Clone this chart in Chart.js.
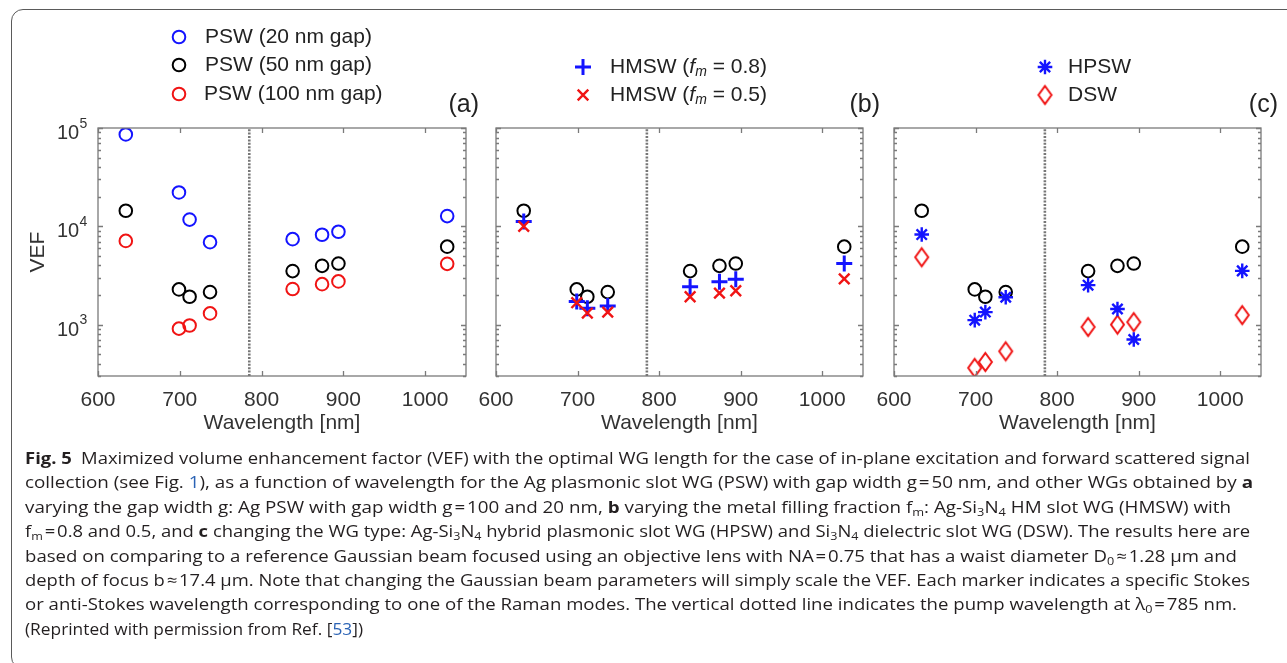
<!DOCTYPE html>
<html>
<head>
<meta charset="utf-8">
<title>VEF versus wavelength</title>
<script src="https://cdn.jsdelivr.net/npm/chart.js@4.4.1/dist/chart.umd.min.js"></script>
<style>
  html, body { margin: 0; padding: 0; background: #fff; width: 1287px; height: 663px; overflow: hidden; }
  #frame { position: absolute; left: 11px; top: 9px; width: 1310px; height: 660px; border: 1.5px solid #5a5a5a;
           border-radius: 12px; box-sizing: border-box; }
  canvas { position: absolute; left: 0; top: 0; pointer-events: none; }
  .cap { position: absolute; left: 25px; white-space: nowrap; font-family: 'Open Sans', 'Noto Sans', sans-serif;
         font-size: 16.5px; line-height: 22px; height: 22px; color: #231f20; transform-origin: 0 50%; }
  .cap b { font-weight: 700; }
  .cap sub { font-size: 0.68em; vertical-align: -0.28em; line-height: 0; }
  .lnk { color: #2b63b5; }
</style>
</head>
<body>
<div id="frame"></div>
<canvas id="panelA" width="1287" height="663"></canvas>
<canvas id="panelB" width="1287" height="663"></canvas>
<canvas id="panelC" width="1287" height="663"></canvas>
<div id="caption"></div>

<script>
// ---- data (VEF per Raman-mode wavelength) ----
const WAVELENGTHS = [634, 699, 712, 737, 838, 874, 894, 1027];        // nm
const PSW_20NM  = [86000, 22100, 11700, 6900, 7400, 8200, 8800, 12700];
const PSW_50NM  = [14400, 2280, 1920, 2140, 3500, 3960, 4180, 6210];
const PSW_100NM = [7100, 910, 980, 1300, 2300, 2580, 2750, 4150];
const HMSW_FM08 = [11200, 1720, 1470, 1550, 2430, 2730, 2900, 4190];
const HMSW_FM05 = [10000, 1670, 1310, 1340, 1920, 2090, 2210, 2920];
const HPSW      = [8240, 1110, 1340, 1900, 2520, 1440, 705, 3520];
const DSW       = [4850, 363, 417, 535, 946, 1000, 1060, 1250];
const PUMP_NM   = 785;
const X_TICKS   = [600, 700, 800, 900, 1000];
const Y_DECADES = [3, 4, 5];
const X_MIN = 600, X_MAX = 1050, Y_MIN = 300, Y_MAX = 100000;

const FONT = "'Liberation Sans', Arial, Helvetica, sans-serif";
const TXT = '#333333';
const BLUE = '#1414ff', RED = '#f01414', BLACK = '#000000';
const W = 1287, H = 663;

const pts = vals => WAVELENGTHS.map((x, i) => ({ x, y: vals[i] }));

// tall outlined diamond used as a point style
function diamondStyle(w, h, color, lw) {
  const c = document.createElement('canvas');
  c.width = Math.ceil(w + lw * 2 + 2); c.height = Math.ceil(h + lw * 2 + 2);
  const g = c.getContext('2d');
  const cx = c.width / 2, cy = c.height / 2;
  g.strokeStyle = color; g.lineWidth = lw; g.lineJoin = 'miter';
  g.beginPath();
  g.moveTo(cx, cy - h / 2); g.lineTo(cx + w / 2, cy); g.lineTo(cx, cy + h / 2); g.lineTo(cx - w / 2, cy);
  g.closePath(); g.stroke();
  return c;
}
const DIAMOND = diamondStyle(13, 18, RED, 2);

const STYLE = {
  circleBlue:  { pointStyle: 'circle', borderColor: BLUE,  backgroundColor: 'rgba(0,0,0,0)', pointRadius: 6.3, borderWidth: 2 },
  circleBlack: { pointStyle: 'circle', borderColor: BLACK, backgroundColor: 'rgba(0,0,0,0)', pointRadius: 6.3, borderWidth: 2 },
  circleRed:   { pointStyle: 'circle', borderColor: RED,   backgroundColor: 'rgba(0,0,0,0)', pointRadius: 6.3, borderWidth: 2 },
  plus:        { pointStyle: 'cross',    borderColor: BLUE, backgroundColor: BLUE, pointRadius: 8,   borderWidth: 3 },
  times:       { pointStyle: 'crossRot', borderColor: RED,  backgroundColor: RED,  pointRadius: 7.5, borderWidth: 2.4 },
  star:        { pointStyle: 'star',     borderColor: BLUE, backgroundColor: BLUE, pointRadius: 7.3, borderWidth: 2.4 },
  diamond:     { pointStyle: DIAMOND,    borderColor: RED,  backgroundColor: RED,  pointRadius: 9,   borderWidth: 2 }
};

function series(label, vals, st, order) {
  return {
    label, data: pts(vals), order, showLine: false,
    pointStyle: st.pointStyle, pointRadius: st.pointRadius, pointHoverRadius: st.pointRadius,
    pointBorderWidth: st.borderWidth, pointBorderColor: st.borderColor, pointBackgroundColor: st.backgroundColor,
    borderColor: st.borderColor, backgroundColor: st.backgroundColor
  };
}
function pumpLine() {
  return {
    label: 'pump', data: [{ x: PUMP_NM, y: Y_MIN }, { x: PUMP_NM, y: Y_MAX }], order: 10,
    showLine: true, pointRadius: 0, borderColor: '#777777', borderWidth: 2.6, borderDash: [2, 1.4]
  };
}

// marker for the legend entries, drawn with the library's own point routine
function legendMarker(ctx, st, x, y) {
  ctx.save();
  ctx.strokeStyle = st.borderColor;
  ctx.fillStyle = st.backgroundColor;
  ctx.lineWidth = st.borderWidth;
  if (Chart.helpers && Chart.helpers.drawPoint) {
    Chart.helpers.drawPoint(ctx, { pointStyle: st.pointStyle, radius: st.pointRadius, rotation: 0, borderWidth: st.borderWidth }, x, y);
  }
  ctx.restore();
}

// frame, inward ticks, decade labels, legend and panel tag
const panelDecor = {
  id: 'panelDecor',
  afterDraw(chart, args, opts) {
    const ctx = chart.ctx, a = chart.chartArea, xs = chart.scales.x, ys = chart.scales.y;
    ctx.save();
    ctx.strokeStyle = '#7a7a7a'; ctx.lineWidth = 1.3;
    ctx.strokeRect(a.left, a.top, a.right - a.left, a.bottom - a.top);
    ctx.beginPath();
    X_TICKS.forEach(v => {
      const px = Math.round(xs.getPixelForValue(v)) + 0.5;
      ctx.moveTo(px, a.bottom); ctx.lineTo(px, a.bottom - 5);
      ctx.moveTo(px, a.top); ctx.lineTo(px, a.top + 5);
    });
    for (let d = 2; d <= 5; d++) {
      for (let m = 1; m <= 9; m++) {
        const v = m * Math.pow(10, d);
        if (v < Y_MIN || v > Y_MAX) continue;
        const py = Math.round(ys.getPixelForValue(v)) + 0.5;
        const len = m === 1 ? 5 : 3;
        ctx.moveTo(a.left, py); ctx.lineTo(a.left + len, py);
        ctx.moveTo(a.right, py); ctx.lineTo(a.right - len, py);
      }
    }
    ctx.stroke();

    if (opts.decadeLabels) {
      ctx.fillStyle = TXT; ctx.textBaseline = 'middle'; ctx.textAlign = 'left';
      Y_DECADES.forEach(k => {
        const py = ys.getPixelForValue(Math.pow(10, k));
        ctx.font = '20px ' + FONT;
        ctx.fillText('10', a.left - 41, py + 5.5);
        ctx.font = '14px ' + FONT;
        ctx.fillText(String(k), a.left - 18.5, py - 4);
      });
    }

    // legend
    ctx.textBaseline = 'middle'; ctx.textAlign = 'left'; ctx.fillStyle = '#222';
    opts.legend.forEach(item => {
      legendMarker(ctx, item.style, item.mx, item.y);
      let x = item.tx;
      item.parts.forEach(p => {
        ctx.font = (p.italic ? 'italic ' : '') + (p.sub ? '14px ' : '21px ') + FONT;
        ctx.fillText(p.t, x, item.y + (p.sub ? 5 : 0));
        x += ctx.measureText(p.t).width;
      });
    });

    // panel tag
    ctx.font = '25px ' + FONT; ctx.textAlign = 'right'; ctx.fillStyle = '#222';
    ctx.fillText(opts.tag, opts.tagX, 105);
    ctx.restore();
  }
};

function makePanel(id, left, right, yWidth, datasets, decor, yTitle) {
  return new Chart(document.getElementById(id), {
    type: 'scatter',
    data: { datasets },
    options: {
      responsive: false, animation: false, devicePixelRatio: 1,
      layout: { padding: { left: left - yWidth, right: W - right, top: 128, bottom: H - 436 } },
      events: [],
      plugins: { legend: { display: false }, tooltip: { enabled: false }, panelDecor: decor },
      scales: {
        x: {
          type: 'linear', position: 'bottom', min: X_MIN, max: X_MAX,
          afterFit: s => { s.height = 60; },
          afterBuildTicks: s => { s.ticks = X_TICKS.map(v => ({ value: v })); },
          grid: { display: false }, border: { display: false },
          ticks: { font: { family: FONT, size: 21 }, color: TXT, padding: 4, maxRotation: 0, autoSkip: false,
                   callback: v => String(v) },
          title: { display: true, text: 'Wavelength [nm]', font: { family: FONT, size: 21 }, color: TXT, padding: 0 }
        },
        y: {
          type: 'logarithmic', position: 'left', min: Y_MIN, max: Y_MAX,
          afterFit: s => { s.width = yWidth; },
          grid: { display: false }, border: { display: false },
          ticks: { display: false },
          title: yTitle
            ? { display: true, text: yTitle, font: { family: FONT, size: 21 }, color: TXT, padding: 0 }
            : { display: false }
        }
      }
    },
    plugins: [panelDecor]
  });
}

// (a) slot gap width
makePanel('panelA', 98, 466, 72, [
  series('PSW (20 nm gap)', PSW_20NM, STYLE.circleBlue, 1),
  series('PSW (50 nm gap)', PSW_50NM, STYLE.circleBlack, 2),
  series('PSW (100 nm gap)', PSW_100NM, STYLE.circleRed, 3),
  pumpLine()
], {
  decadeLabels: true, tag: '(a)', tagX: 479,
  legend: [
    { style: STYLE.circleBlue,  mx: 179, tx: 205, y: 37, parts: [{ t: 'PSW (20 nm gap)' }] },
    { style: STYLE.circleBlack, mx: 179, tx: 205, y: 65, parts: [{ t: 'PSW (50 nm gap)' }] },
    { style: STYLE.circleRed,   mx: 179, tx: 204, y: 94, parts: [{ t: 'PSW (100 nm gap)' }] }
  ]
}, 'VEF');

// (b) metal filling fraction
makePanel('panelB', 496, 863, 0, [
  series('PSW (50 nm gap)', PSW_50NM, STYLE.circleBlack, 3),
  series('HMSW (fm = 0.8)', HMSW_FM08, STYLE.plus, 2),
  series('HMSW (fm = 0.5)', HMSW_FM05, STYLE.times, 1),
  pumpLine()
], {
  decadeLabels: false, tag: '(b)', tagX: 880,
  legend: [
    { style: STYLE.plus,  mx: 583, tx: 610, y: 67, parts: [{ t: 'HMSW (' }, { t: 'f', italic: true }, { t: 'm', italic: true, sub: true }, { t: ' = 0.8)' }] },
    { style: STYLE.times, mx: 583, tx: 610, y: 95, parts: [{ t: 'HMSW (' }, { t: 'f', italic: true }, { t: 'm', italic: true, sub: true }, { t: ' = 0.5)' }] }
  ]
});

// (c) waveguide type
makePanel('panelC', 894, 1261, 0, [
  series('PSW (50 nm gap)', PSW_50NM, STYLE.circleBlack, 3),
  series('DSW', DSW, STYLE.diamond, 2),
  series('HPSW', HPSW, STYLE.star, 1),
  pumpLine()
], {
  decadeLabels: false, tag: '(c)', tagX: 1278,
  legend: [
    { style: STYLE.star,    mx: 1045, tx: 1068, y: 67, parts: [{ t: 'HPSW' }] },
    { style: STYLE.diamond, mx: 1045, tx: 1068, y: 95, parts: [{ t: 'DSW' }] }
  ]
});

// ---- figure caption ----
const CAPTION_LINES = [
  '<b>Fig. 5</b>&ensp;Maximized volume enhancement factor (VEF) with the optimal WG length for the case of in-plane excitation and forward scattered signal',
  'collection (see Fig. <span class="lnk">1</span>), as a function of wavelength for the Ag plasmonic slot WG (PSW) with gap width g&#8202;=&#8202;50&nbsp;nm, and other WGs obtained by <b>a</b>',
  'varying the gap width g: Ag PSW with gap width g&#8202;=&#8202;100 and 20&nbsp;nm, <b>b</b> varying the metal filling fraction f<sub>m</sub>: Ag-Si<sub>3</sub>N<sub>4</sub> HM slot WG (HMSW) with',
  'f<sub>m</sub>&#8202;=&#8202;0.8 and 0.5, and <b>c</b> changing the WG type: Ag-Si<sub>3</sub>N<sub>4</sub> hybrid plasmonic slot WG (HPSW) and Si<sub>3</sub>N<sub>4</sub> dielectric slot WG (DSW). The results here are',
  'based on comparing to a reference Gaussian beam focused using an objective lens with NA&#8202;=&#8202;0.75 that has a waist diameter D<sub>0</sub>&#8202;≈&#8202;1.28&nbsp;μm and',
  'depth of focus b&#8202;≈&#8202;17.4&nbsp;μm. Note that changing the Gaussian beam parameters will simply scale the VEF. Each marker indicates a specific Stokes',
  'or anti-Stokes wavelength corresponding to one of the Raman modes. The vertical dotted line indicates the pump wavelength at λ<sub>0</sub>&#8202;=&#8202;785&nbsp;nm.',
  '(Reprinted with permission from Ref. [<span class="lnk">53</span>])'
];
const CAPTION_RIGHT = [1250, 1253, 1231, 1250, 1237, 1250, 1237, 363];
const CAPTION_LEFT = 25, CAPTION_TOP = 458, CAPTION_STEP = 24.4;

const capBox = document.getElementById('caption');
const capEls = CAPTION_LINES.map((html, i) => {
  const d = document.createElement('div');
  d.className = 'cap';
  d.innerHTML = html;
  d.style.left = CAPTION_LEFT + 'px';
  d.style.top = (CAPTION_TOP + i * CAPTION_STEP - 11) + 'px';
  capBox.appendChild(d);
  return d;
});
function fitCaption() {
  capEls.forEach((d, i) => {
    d.style.transform = 'none';
    const w = d.getBoundingClientRect().width;
    const target = CAPTION_RIGHT[i] - CAPTION_LEFT;
    d.style.transform = 'scaleX(' + (target / w).toFixed(4) + ')';
  });
}
fitCaption();
if (document.fonts && document.fonts.ready) document.fonts.ready.then(fitCaption);
</script>
</body>
</html>
